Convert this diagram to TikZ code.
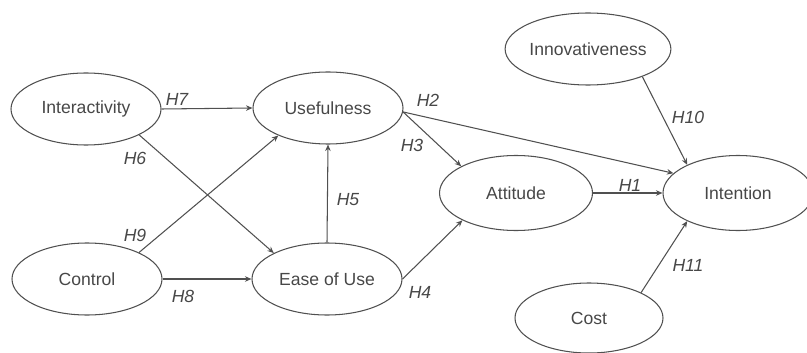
\documentclass[tikz,border=0pt]{standalone}
\usepackage{fontspec}
\setmainfont{Liberation Sans}
\usepackage{tikz}
\usetikzlibrary{shapes}
\usetikzlibrary{arrows.meta}
\definecolor{linegray}{HTML}{505050}
\definecolor{textgray}{HTML}{474747}

\begin{document}
\begin{tikzpicture}[every node/.style={text=textgray, font=\fontsize{10}{12}\selectfont},
  construct/.style={draw=linegray, ellipse, line width=0.6pt, minimum width=3cm, minimum height=1.44cm, inner sep=0pt},
  hyp/.style={font=\fontsize{10}{12}\selectfont\itshape, inner sep=1pt},
  path/.style={draw=linegray, line width=0.6pt, -{Stealth[length=1.3mm,width=1.1mm]}}]
\useasboundingbox (0,0) rectangle (16.14,7.04);
\node[construct] (Inter) at (1.72,4.86) {Interactivity};
\node[construct] (Useful) at (6.56,4.88) {Usefulness};
\node[construct] (Innov) at (11.76,6.06) {Innovativeness};
\node[construct, minimum width=3.06cm, minimum height=1.5cm] (Att) at (10.32,3.18) {Attitude};
\node[construct, minimum height=1.5cm] (Int) at (14.76,3.18) {Intention};
\node[construct] (Ctrl) at (1.74,1.46) {Control};
\node[construct] (Ease) at (6.54,1.46) {Ease of Use};
\node[construct, minimum width=2.96cm, minimum height=1.4cm] (Cost) at (11.78,0.68) {Cost};
% hypotheses
\draw[path] (Inter.east) -- (Useful.west);
\draw[path] (Inter.-26) -- (Ease.154);
\draw[path] (Ctrl.27) -- (Useful.-151);
\draw[path] (Ctrl.east) -- (Ease.west);
\draw[path] (Ease.north) -- (Useful.south);
\draw[path] (Ease.east) -- (Att.-153);
\draw[path] (Useful.-3) -- (Att.154);
\draw[path] (Useful.-3) -- (Int.163);
\draw[path] (Att.east) -- (Int.west);
\draw[path] (Innov.-27) -- (Int.151);
\draw[path] (Cost.26) -- (Int.209);
\node[hyp] (H7) at (3.54,5.06) {H7};
\node[hyp] (H6) at (2.70,3.88) {H6};
\node[hyp] (H9) at (2.70,2.34) {H9};
\node[hyp] (H8) at (3.66,1.12) {H8};
\node[hyp] (H5) at (6.96,3.04) {H5};
\node[hyp] (H2) at (8.56,5.04) {H2};
\node[hyp] (H3) at (8.24,4.14) {H3};
\node[hyp] (H4) at (8.40,1.20) {H4};
\node[hyp] (H1) at (12.60,3.34) {H1};
\node[hyp] (H10) at (13.76,4.70) {H10};
\node[hyp] (H11) at (13.76,1.74) {H11};
\end{tikzpicture}
\end{document}
